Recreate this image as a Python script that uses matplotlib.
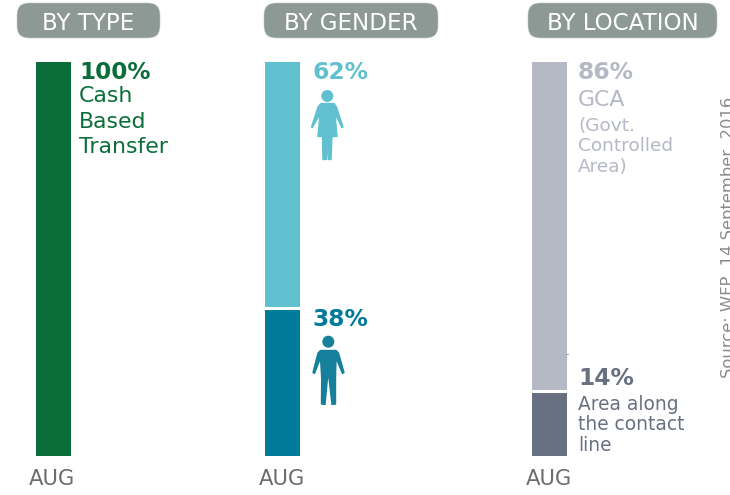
import matplotlib
matplotlib.use('Agg')
import matplotlib.pyplot as plt
from matplotlib.patches import Circle, FancyBboxPatch, Polygon

W, H = 730, 495

period = 'AUG'
titles = ['BY TYPE', 'BY GENDER', 'BY LOCATION']
# segment heights as drawn, bottom to top (the location bar is not drawn to its labels)
type_values = [100]
gender_values = [37.5, 62.5]
location_values = [16.5, 83.5]
type_colors = ['#0b6e3a']
gender_colors = ['#007a99', '#60c0d0']
location_colors = ['#667080', '#b5b9c5']

GREEN, LIGHT, TEAL, GREY, SLATE = '#0b6e3a', '#60c0d0', '#007a99', '#b5b9c5', '#667080'

plt.rcParams['font.family'] = ['DejaVu Sans']
fig = plt.figure(figsize=(W / 100, H / 100), dpi=100)


def bar_axes(left, values, colors):
    ax = fig.add_axes([left / W, (H - 456) / H, 35 / W, 394 / H])
    bottom = 0
    for v, c in zip(values, colors):
        ax.bar(0, v, width=1, bottom=bottom, color=c, linewidth=0)
        bottom += v
    ax.set_xlim(-0.5, 0.5)
    ax.set_ylim(0, 100)
    ax.axis('off')
    return ax


bar_axes(36, type_values, type_colors)
ax_g = bar_axes(265, gender_values, gender_colors)
ax_l = bar_axes(532, location_values, location_colors)
# white gap between the stacked segments
ax_g.axhline(gender_values[0], color='white', lw=2.2)
ax_l.axhline(location_values[0], color='white', lw=2.2)

# overlay in pixel coordinates for pills, labels and icons
ov = fig.add_axes([0, 0, 1, 1], zorder=5)
ov.set_xlim(0, W)
ov.set_ylim(H, 0)
ov.axis('off')
ov.patch.set_alpha(0)

pills = [(17, 160), (264, 438), (528, 717)]
for (x0, x1), t in zip(pills, titles):
    ov.add_patch(FancyBboxPatch((x0 + 12, 3 + 12), x1 - x0 - 24, 35 - 24,
                                boxstyle='round,pad=12,rounding_size=12',
                                fc='#8c9994', ec='#c5ccc9', lw=0.4))
    ov.text((x0 + x1) / 2, 29.5, t, color='white', fontsize=16.6, ha='center', va='baseline')

for x in [51.5, 282, 549]:
    ov.text(x, 485, period, color='#6d6d6d', fontsize=15.2, ha='center', va='baseline')


def label(x, y, s, color, size=15.8, bold=False):
    ov.text(x, y, s, color=color, fontsize=size, va='baseline',
            fontweight='bold' if bold else 'normal')


label(79.5, 79, '100%', GREEN, 16.6, True)
label(79, 102, 'Cash', GREEN)
label(79, 128, 'Based', GREEN)
label(79, 153, 'Transfer', GREEN)

label(312, 79, '62%', LIGHT, 16.8, True)
label(312, 326, '38%', TEAL, 16.8, True)

label(578, 79, '86%', GREY, 16.8, True)
label(578, 106, 'GCA', GREY)
label(578, 131, '(Govt.', GREY, 13.3)
label(578, 151, 'Controlled', GREY, 13.3)
label(578, 172, 'Area)', GREY, 13.3)

label(578, 385, '14%', SLATE, 16.8, True)
label(578.5, 410, 'Area along', SLATE, 13.4)
label(578.5, 430, 'the contact', SLATE, 13.4)
label(578.5, 451, 'line', SLATE, 13.4)

# runs off the right edge in the reference too
ov.text(733, 378, 'Source: WFP, 14 September, 2016', color='#8a8a8a', fontsize=11.8,
        rotation=90, ha='left', va='baseline', rotation_mode='anchor', clip_on=False)
ov.plot([566, 568], [354, 354], color='#8a8f99', lw=0.6)

# female pictogram
ov.add_patch(Circle((327.3, 96), 6, fc=LIGHT, ec='none'))
ov.add_patch(Polygon([(321, 103.5), (334, 103.5), (336.5, 107), (343, 127), (342, 127.5),
                      (335, 114), (337, 136.5), (332, 136.5), (331, 159.5), (328.5, 159.5),
                      (327.5, 138), (326.5, 159.5), (323, 159.5), (322.5, 136.5), (318, 136.5),
                      (320, 114), (312.5, 127.5), (311.5, 127), (318, 107)],
                     closed=True, fc=LIGHT, ec=LIGHT, lw=1, joinstyle='round'))

# male pictogram
MALE = '#167f9b'
ov.add_patch(Circle((328.3, 341.7), 6, fc=MALE, ec='none'))
ov.add_patch(Polygon([(320.5, 350.5), (336, 350.5), (338.5, 353), (344, 372.5), (342.5, 373.5),
                      (336, 358), (335.5, 378), (335.5, 404), (332, 404.5), (329, 378),
                      (327.5, 378), (325, 404.5), (321.5, 404), (321.7, 378), (320.5, 358),
                      (314.5, 373.5), (313, 372.5), (318, 353)],
                     closed=True, fc=MALE, ec=MALE, lw=1, joinstyle='round'))

fig.savefig('out.png', dpi=100)
